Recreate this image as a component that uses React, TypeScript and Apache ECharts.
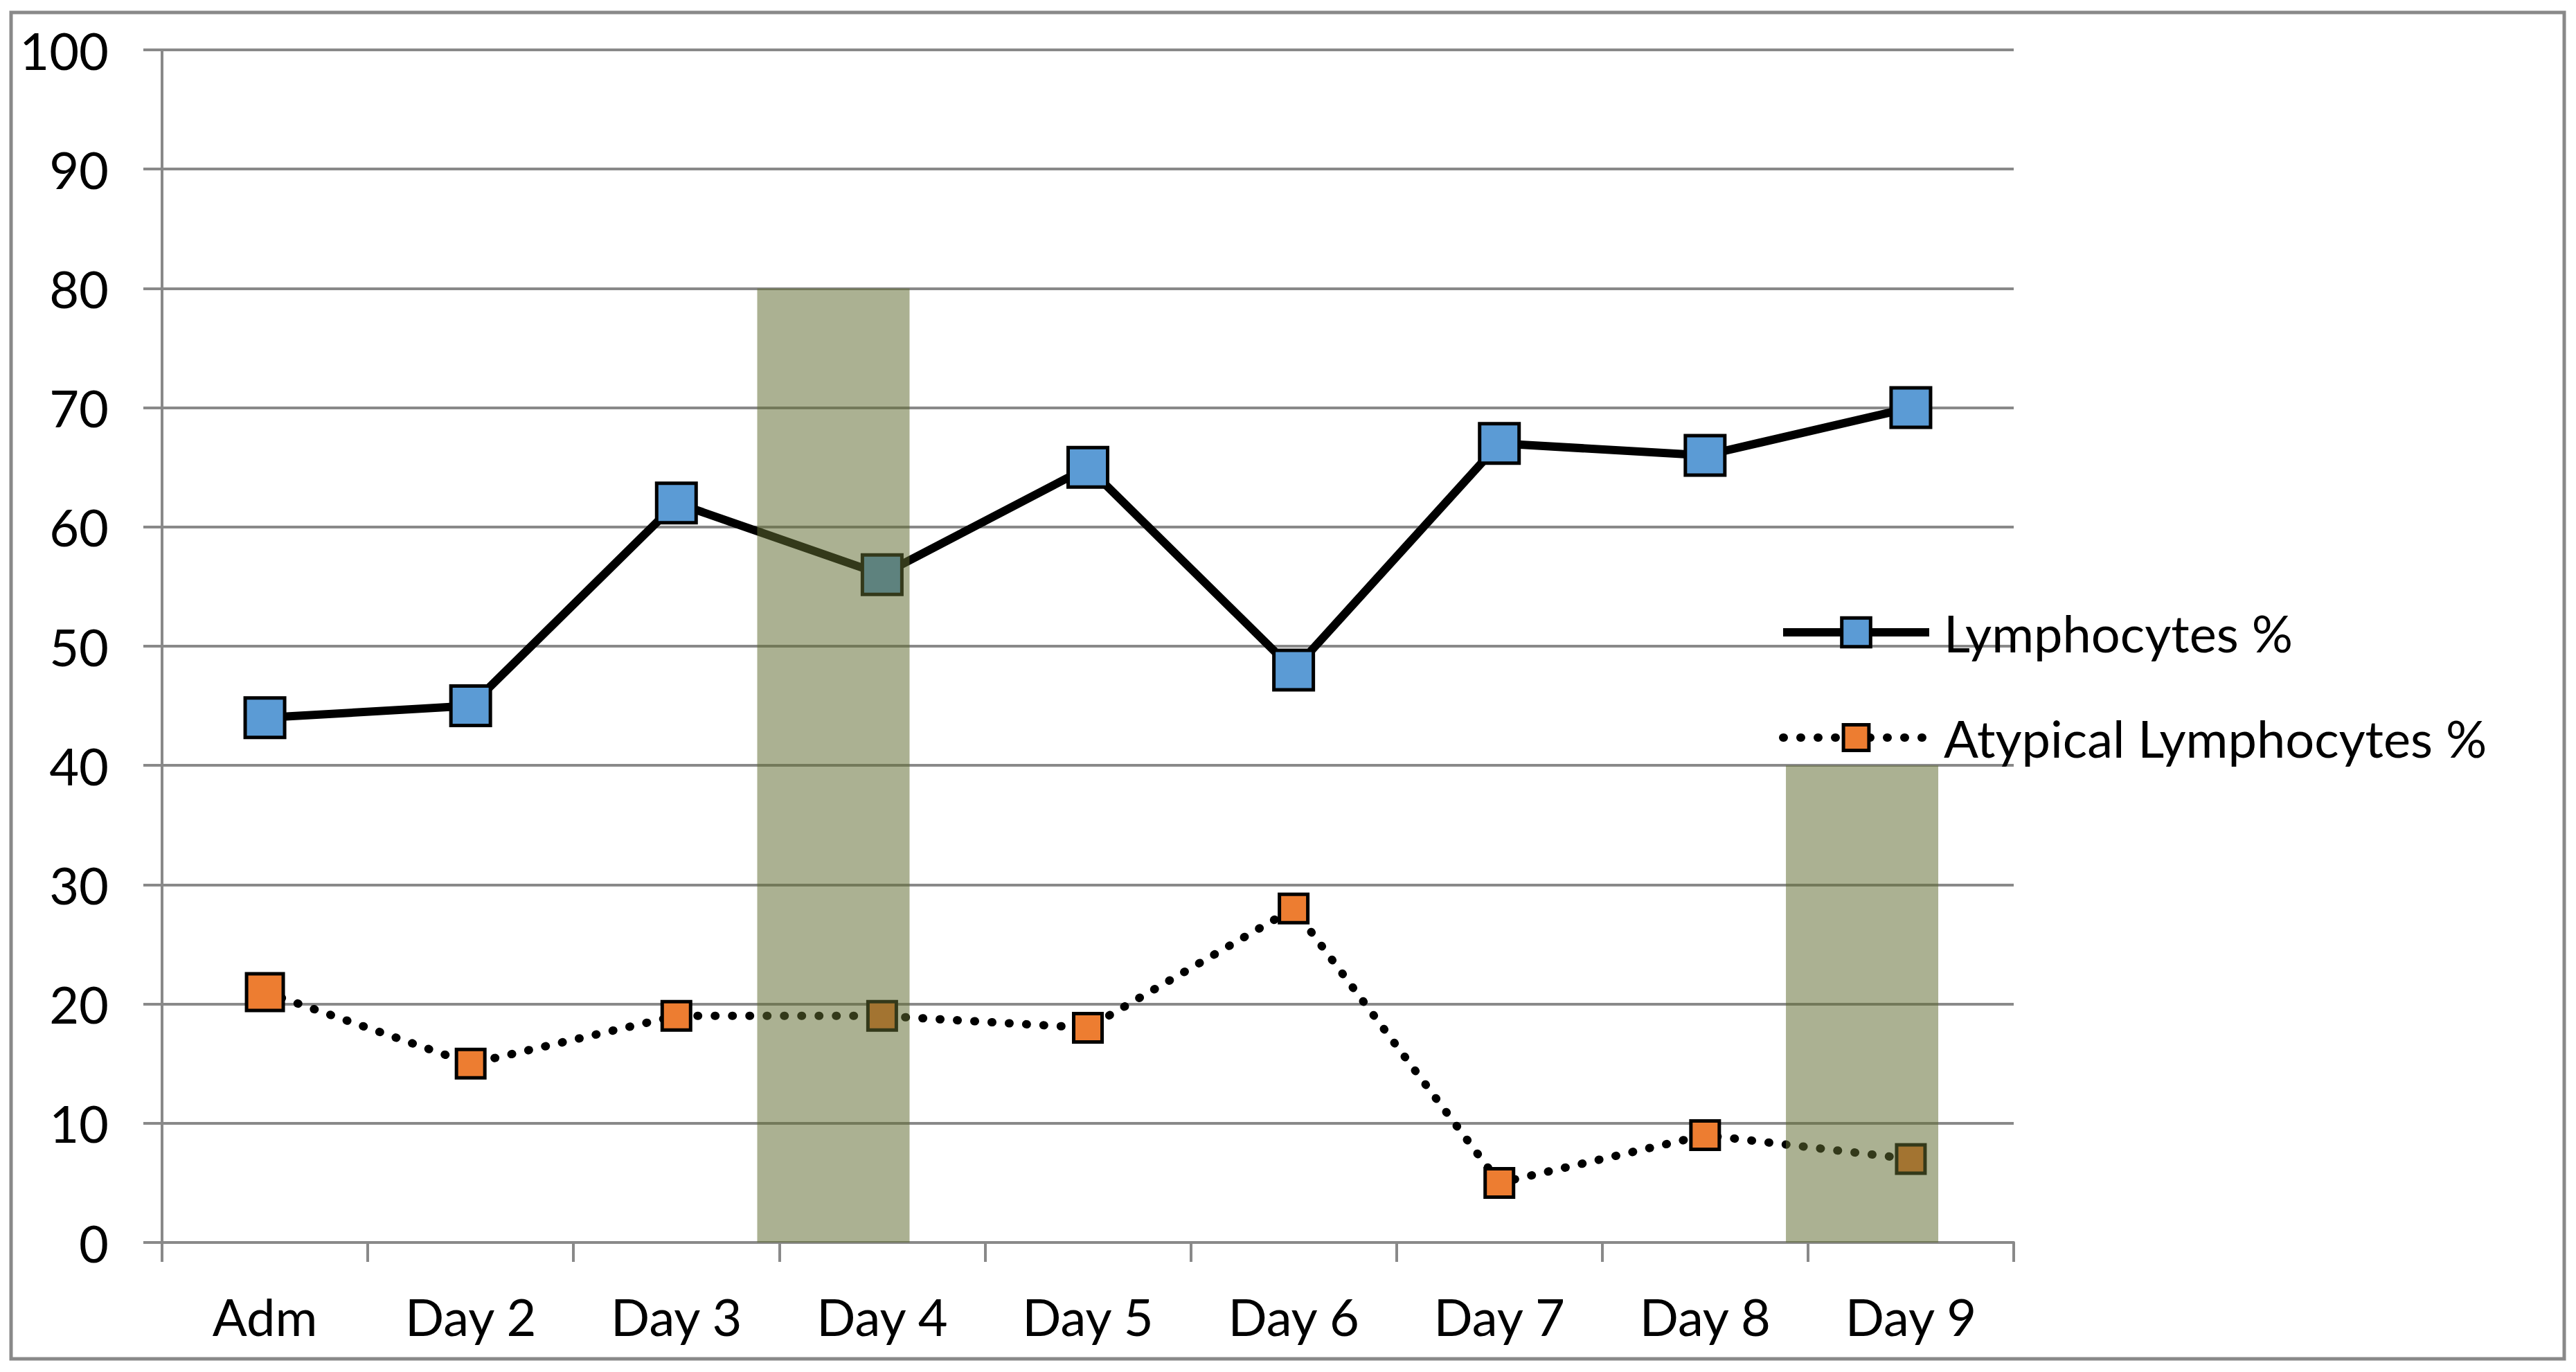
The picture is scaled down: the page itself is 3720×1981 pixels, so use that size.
import React, { useEffect, useRef } from "react";
import * as echarts from "echarts";

const categories = ["Adm", "Day 2", "Day 3", "Day 4", "Day 5", "Day 6", "Day 7", "Day 8", "Day 9"];
const lymphocytes = [44, 45, 62, 56, 65, 48, 67, 66, 70];
const atypical = [21, 15, 19, 19, 18, 28, 5, 9, 7];
const shaded: (number | string)[] = ["-", "-", "-", 80, "-", "-", "-", "-", 40];
const yTicks = { min: 0, max: 100, interval: 10 };

const FONT = "Lato";
const GRID_COLOR = "#898989";

export default function App() {
  const ref = useRef<HTMLDivElement>(null);
  useEffect(() => {
    if (!ref.current) return;
    const chart = echarts.init(ref.current, null, { renderer: "svg" });
    chart.setOption({
      animation: false,
      backgroundColor: "#ffffff",
      textStyle: { fontFamily: FONT },
      grid: { left: 234, right: 3720 - 2908, top: 72, bottom: 1981 - 1794, containLabel: false },
      graphic: [
        {
          type: "rect",
          shape: { x: 16, y: 18, width: 3703 - 16, height: 1962 - 18 },
          style: { fill: "none", stroke: GRID_COLOR, lineWidth: 5 },
          silent: true,
        },
      ],
      legend: [
        {
          data: ["Lymphocytes %"],
          left: 2569,
          top: 876,
          padding: 0,
          itemWidth: 211,
          itemHeight: 52,
          lineStyle: { width: 12 },
          itemStyle: { borderWidth: 5, borderColor: "#000" },
          textStyle: { fontFamily: FONT, fontSize: 74, lineHeight: 74, color: "#000", padding: [0, 0, 0, 16] },
          selectedMode: false,
        },
        {
          data: ["Atypical Lymphocytes %"],
          left: 2569,
          top: 1028,
          padding: 0,
          itemWidth: 211,
          itemHeight: 46,
          lineStyle: { width: 12, type: [1, 24], cap: "round" },
          itemStyle: { borderWidth: 5, borderColor: "#000" },
          textStyle: { fontFamily: FONT, fontSize: 74, lineHeight: 74, color: "#000", padding: [0, 0, 0, 16] },
          selectedMode: false,
        },
      ],
      xAxis: {
        type: "category",
        data: categories,
        boundaryGap: true,
        axisLine: { show: true, lineStyle: { color: GRID_COLOR, width: 4 } },
        axisTick: { show: true, length: 28, lineStyle: { color: GRID_COLOR, width: 4 } },
        axisLabel: { color: "#000", fontFamily: FONT, fontSize: 74, lineHeight: 74, margin: 69, interval: 0 },
        splitLine: { show: false },
      },
      yAxis: {
        type: "value",
        min: yTicks.min,
        max: yTicks.max,
        interval: yTicks.interval,
        axisLine: { show: true, lineStyle: { color: GRID_COLOR, width: 4 } },
        axisTick: { show: true, length: 27, lineStyle: { color: GRID_COLOR, width: 4 } },
        axisLabel: { color: "#000", fontFamily: FONT, fontSize: 74, margin: 77 },
        splitLine: { show: true, lineStyle: { color: GRID_COLOR, width: 4 } },
      },
      series: [
        {
          name: "Lymphocytes %",
          type: "line",
          data: lymphocytes,
          z: 2,
          symbol: "rect",
          symbolSize: 57,
          lineStyle: { color: "#000", width: 12 },
          itemStyle: { color: "#5b9bd5", borderColor: "#000", borderWidth: 5 },
        },
        {
          name: "Atypical Lymphocytes %",
          type: "line",
          data: atypical,
          z: 2,
          symbol: "rect",
          symbolSize: (_v: any, p: any) => (p.dataIndex === 0 ? 53 : 41),
          lineStyle: { color: "#000", width: 12, type: [1, 24], cap: "round" },
          itemStyle: { color: "#ed7d31", borderColor: "#000", borderWidth: 5 },
        },
        {
          name: "shade",
          type: "bar",
          data: shaded,
          z: 5,
          barWidth: 220,
          barGap: "-36%",
          itemStyle: { color: "rgba(96,107,49,0.53)" },
          silent: true,
        },
        {
          name: "placeholder",
          type: "bar",
          data: categories.map(() => "-"),
          barWidth: 220,
          silent: true,
        },
      ],
    });
    return () => chart.dispose();
  }, []);
  return <div ref={ref} style={{ position: "fixed", left: 0, top: 0, width: 3720, height: 1981 }} />;
}
